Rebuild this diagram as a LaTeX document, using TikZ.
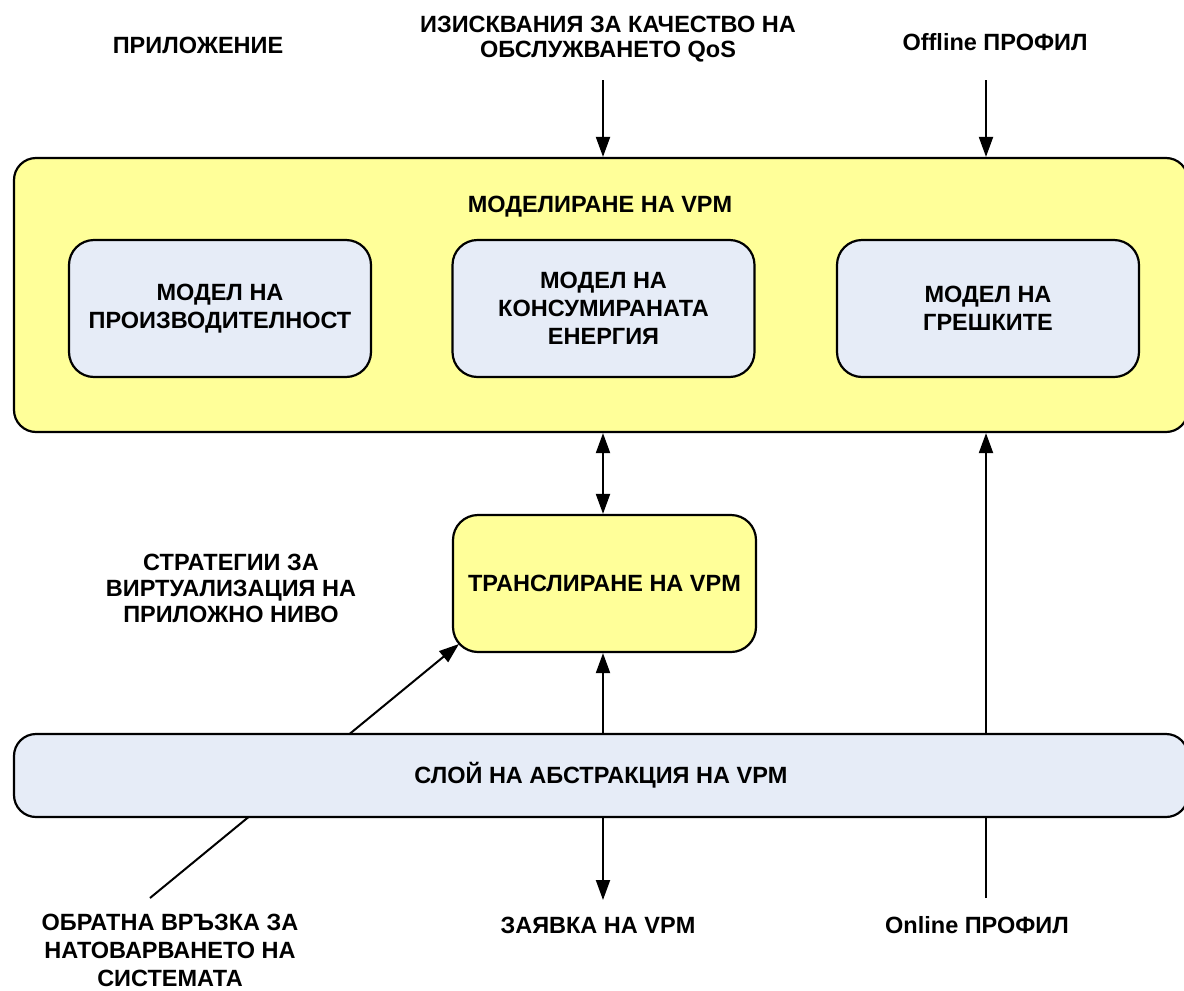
\documentclass[tikz,border=0pt]{standalone}
\usepackage{fontspec}
\setmainfont{Liberation Sans}
\usetikzlibrary{arrows.meta,backgrounds}
\definecolor{vpmyellow}{RGB}{255,255,153}
\definecolor{vpmblue}{RGB}{230,236,247}
\begin{document}
\begin{tikzpicture}[
  x=1pt, y=-1pt,
  font=\fontsize{23.5}{28}\selectfont\bfseries,
  line width=2.2pt,
  >={Triangle[width=14pt,length=20pt]},
  panel/.style={draw=black, rounded corners=22pt, align=center, inner sep=0pt},
  modelbox/.style={draw=black, fill=vpmblue, rounded corners=25pt, align=center,
    inner sep=0pt, minimum width=302pt, minimum height=137pt},
  caption/.style={align=center, inner sep=0pt},
  flow/.style={->, line width=2pt}
]
\useasboundingbox (0,0) rectangle (1184,991);

% modelling block with its three models
\node[panel, fill=vpmyellow, minimum width=1174pt, minimum height=274pt] (vpm) at (601,295) {};
\node[caption] (vpmtitle) at (600,207) {МОДЕЛИРАНЕ НА VPM};
\node[modelbox] (perf) at (220,308.5) {МОДЕЛ НА\\ПРОИЗВОДИТЕЛНОСТ};
\node[modelbox] (energy) at (603.5,308.5) {МОДЕЛ НА\\КОНСУМИРАНАТА\\ЕНЕРГИЯ};
\node[modelbox] (fault) at (988,308.5) {МОДЕЛ НА\\ГРЕШКИТЕ};

% translation block and abstraction layer
\node[panel, fill=vpmyellow, rounded corners=25pt, minimum width=303pt, minimum height=137pt] (trans) at (604.5,583.5) {ТРАНСЛИРАНЕ НА VPM};
\node[panel, fill=vpmblue, minimum width=1174pt, minimum height=83pt] (layer) at (601,775.5) {СЛОЙ НА АБСТРАКЦИЯ НА VPM};

% free-standing captions
\node[caption] (app) at (198,45) {ПРИЛОЖЕНИЕ};
\node[caption, font=\fontsize{23.5}{25.5}\selectfont\bfseries] (qos) at (608,39) {ИЗИСКВАНИЯ ЗА КАЧЕСТВО НА\\ОБСЛУЖВАНЕТО QoS};
\node[caption] (offline) at (995,42) {Offline ПРОФИЛ};
\node[caption, font=\fontsize{23.5}{26}\selectfont\bfseries] (strat) at (231,588) {СТРАТЕГИИ ЗА\\ВИРТУАЛИЗАЦИЯ НА\\ПРИЛОЖНО НИВО};
\node[caption] (feedback) at (170,950) {ОБРАТНА ВРЪЗКА ЗА\\НАТОВАРВАНЕТО НА\\СИСТЕМАТА};
\node[caption] (request) at (598,925) {ЗАЯВКА НА VPM};
\node[caption] (online) at (977,925) {Online ПРОФИЛ};

% connector end points
\coordinate (qosin) at (603,80);
\coordinate (offin) at (986,80);
\coordinate (reqout) at (603,900);
\coordinate (onlin) at (986,898);
\coordinate (fbin) at (150,898);
\coordinate (tcorner) at (459,644);

% connectors
\draw[flow] (qosin) -- (qosin |- vpm.north);
\draw[flow] (offin) -- (offin |- vpm.north);
\draw[flow, <->] (vpm.south -| qosin) -- (trans.north -| qosin);
\draw[flow] (layer.north -| qosin) -- (trans.south -| qosin);
\draw[flow] (layer.south -| qosin) -- (reqout);
\begin{scope}[on background layer]
  \draw[flow] (onlin) -- (vpm.south -| onlin);
  \draw[flow] (fbin) -- (tcorner);
\end{scope}
\end{tikzpicture}
\end{document}
